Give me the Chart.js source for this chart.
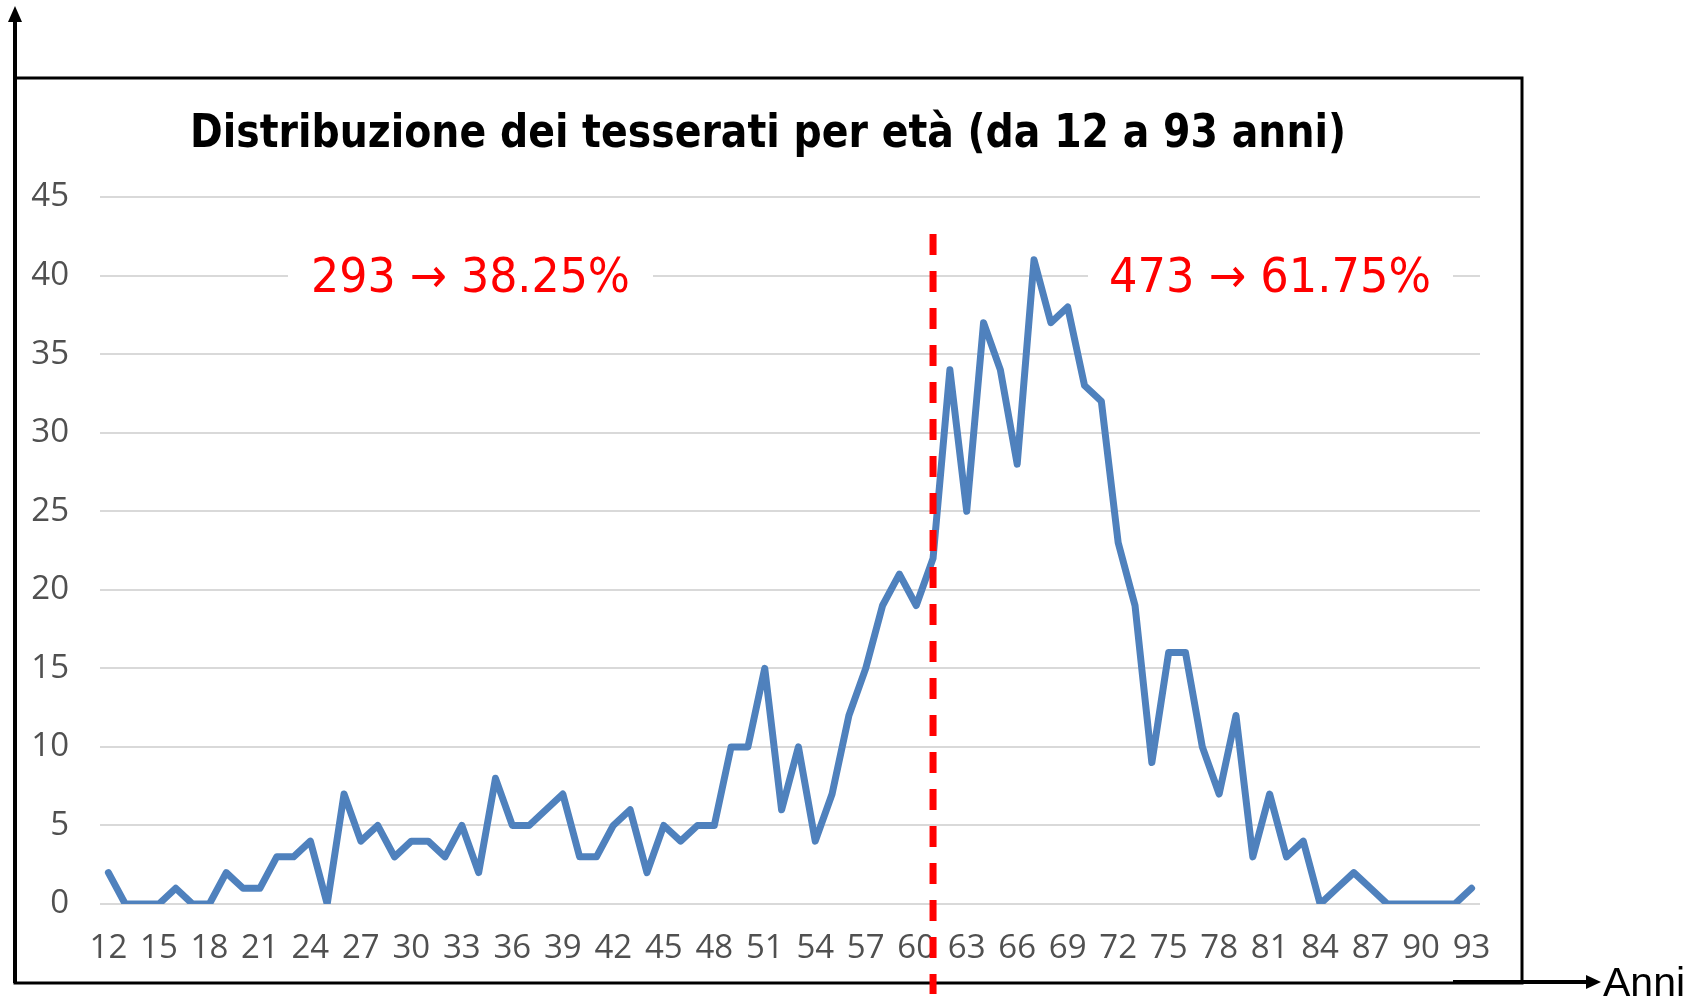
<!DOCTYPE html>
<html>
<head>
<meta charset="utf-8">
<title>Distribuzione dei tesserati per età</title>
<script src="https://cdn.jsdelivr.net/npm/chart.js@4.4.0/dist/chart.umd.min.js"></script>
<style>
  html, body { margin: 0; padding: 0; background: #fff; overflow: hidden; }
  #wrap { position: relative; width: 1685px; height: 1003px; }
  #chart { position: absolute; left: 0; top: 0; }
  #overlay { position: absolute; left: 0; top: 0; pointer-events: none; }
</style>
</head>
<body>
<div id="wrap">
  <canvas id="chart" width="1685" height="1003"></canvas>
  <svg id="overlay" width="1685" height="1003">
    <!-- titolo -->
    <text x="190" y="147" font-family="DejaVu Sans" font-weight="bold" font-size="46"
          textLength="1156" lengthAdjust="spacingAndGlyphs" fill="#000">Distribuzione dei tesserati per età (da 12 a 93 anni)</text>
    <!-- annotazioni rosse con sfondo bianco -->
    <rect x="288" y="250" width="365" height="50" fill="#fff"></rect>
    <text x="311" y="292" font-family="DejaVu Sans" font-size="48" fill="#ff0000"
          textLength="319" lengthAdjust="spacingAndGlyphs">293 → 38.25%</text>
    <rect x="1088" y="250" width="365" height="50" fill="#fff"></rect>
    <text x="1109" y="292" font-family="DejaVu Sans" font-size="48" fill="#ff0000"
          textLength="322" lengthAdjust="spacingAndGlyphs">473 → 61.75%</text>
    <!-- etichetta asse x -->
    <text x="1603" y="996" font-family="Liberation Sans" font-size="41" fill="#000">Anni</text>
  </svg>
</div>

<script>
// Età (categorie asse x)
const ages = [
  12, 13, 14, 15, 16, 17, 18, 19, 20, 21,
  22, 23, 24, 25, 26, 27, 28, 29, 30, 31,
  32, 33, 34, 35, 36, 37, 38, 39, 40, 41,
  42, 43, 44, 45, 46, 47, 48, 49, 50, 51,
  52, 53, 54, 55, 56, 57, 58, 59, 60, 61,
  62, 63, 64, 65, 66, 67, 68, 69, 70, 71,
  72, 73, 74, 75, 76, 77, 78, 79, 80, 81,
  82, 83, 84, 85, 86, 87, 88, 89, 90, 91,
  92, 93
];

// Numero di tesserati per età
const members = [
  2, 0, 0, 0, 1, 0, 0, 2, 1, 1,
  3, 3, 4, 0, 7, 4, 5, 3, 4, 4,
  3, 5, 2, 8, 5, 5, 6, 7, 3, 3,
  5, 6, 2, 5, 4, 5, 5, 10, 10, 15,
  6, 10, 4, 7, 12, 15, 19, 21, 19, 22,
  34, 25, 37, 34, 28, 41, 37, 38, 33, 32,
  23, 19, 9, 16, 16, 10, 7, 12, 3, 7,
  3, 4, 0, 1, 2, 1, 0, 0, 0, 0,
  0, 1
];

// Etichette mostrate sull'asse x (una ogni 3 anni)
const xTickLabels = [12, 15, 18, 21, 24, 27, 30, 33, 36, 39, 42, 45, 48, 51, 54, 57, 60, 63, 66, 69, 72, 75, 78, 81, 84, 87, 90, 93];

// Scala asse y
const yMin = 0;
const yMax = 45;
const yStep = 5;

// Età in cui cade la linea di separazione
const splitAge = 61;

// Cornice e frecce degli assi disegnate sul canvas
const framePlugin = {
  id: 'frame',
  beforeDraw(chart) {
    const ctx = chart.ctx;
    ctx.save();
    ctx.strokeStyle = '#000';
    ctx.fillStyle = '#000';
    // riquadro
    ctx.lineWidth = 3;
    ctx.strokeRect(15, 78, 1507, 905);
    // freccia verticale
    ctx.lineWidth = 4;
    ctx.beginPath();
    ctx.moveTo(15, 983);
    ctx.lineTo(15, 20);
    ctx.stroke();
    ctx.beginPath();
    ctx.moveTo(15, 6);
    ctx.lineTo(8, 22);
    ctx.lineTo(22, 22);
    ctx.closePath();
    ctx.fill();
    // freccia orizzontale
    ctx.beginPath();
    ctx.moveTo(1453, 982);
    ctx.lineTo(1588, 982);
    ctx.stroke();
    ctx.beginPath();
    ctx.moveTo(1601, 982);
    ctx.lineTo(1586, 975);
    ctx.lineTo(1586, 989);
    ctx.closePath();
    ctx.fill();
    ctx.restore();
  }
};

// Linea rossa tratteggiata sull'età di separazione
const splitLinePlugin = {
  id: 'splitLine',
  afterDatasetsDraw(chart) {
    const ctx = chart.ctx;
    const x = chart.scales.x.getPixelForValue(ages.indexOf(splitAge));
    const area = chart.chartArea;
    ctx.save();
    ctx.strokeStyle = '#ff0000';
    ctx.lineWidth = 7;
    ctx.setLineDash([21, 16]);
    ctx.beginPath();
    ctx.moveTo(x, area.top + 37);
    ctx.lineTo(x, area.bottom + 90);
    ctx.stroke();
    ctx.restore();
  }
};

const tickFont = { family: 'Open Sans', size: 33 };

new Chart(document.getElementById('chart'), {
  type: 'line',
  data: {
    labels: ages,
    datasets: [{
      label: 'Tesserati',
      data: members,
      borderColor: '#4f81bd',
      borderWidth: 7,
      borderJoinStyle: 'round',
      borderCapStyle: 'round',
      pointRadius: 0,
      tension: 0,
      fill: false
    }]
  },
  options: {
    responsive: false,
    animation: false,
    devicePixelRatio: 1,
    layout: { padding: { left: 0, top: 197, right: 205, bottom: 29 } },
    plugins: {
      legend: { display: false },
      title: { display: false },
      tooltip: { enabled: false }
    },
    scales: {
      x: {
        type: 'category',
        offset: true,
        grid: { display: false, drawTicks: false },
        border: { display: false },
        ticks: {
          autoSkip: false,
          maxRotation: 0,
          minRotation: 0,
          padding: 25,
          color: '#505050',
          font: tickFont,
          callback: function (value) {
            const age = ages[value];
            return xTickLabels.includes(age) ? String(age) : '';
          }
        },
        afterFit(scale) { scale.height = 70; }
      },
      y: {
        min: yMin,
        max: yMax,
        grid: { color: '#d9d9d9', lineWidth: 2, drawTicks: false },
        border: { display: false },
        ticks: {
          stepSize: yStep,
          padding: 31,
          color: '#505050',
          font: tickFont
        },
        afterFit(scale) { scale.width = 100; }
      }
    }
  },
  plugins: [framePlugin, splitLinePlugin]
});
</script>
</body>
</html>
